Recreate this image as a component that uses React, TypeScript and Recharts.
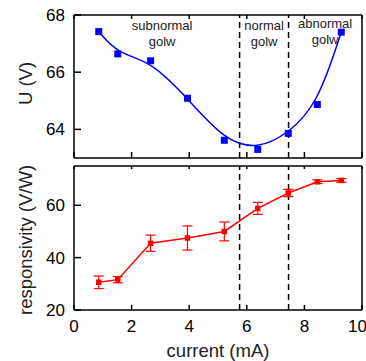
import {
  ComposedChart,
  Line,
  XAxis,
  YAxis,
  ReferenceLine,
  ReferenceDot,
  ErrorBar,
  Label,
} from "recharts";

const current = [0.86, 1.52, 2.66, 3.94, 5.22, 6.38, 7.44, 8.45, 9.28];
const voltage = [67.42, 66.64, 66.4, 65.09, 63.62, 63.3, 63.86, 64.87, 67.4];
const responsivity = [30.6, 31.6, 45.5, 47.5, 50.0, 58.8, 64.7, 69.0, 69.5];
const responsivityErr = [2.4, 1.2, 3.1, 4.6, 3.6, 2.3, 1.4, 0.7, 0.7];

const xTicks = [0, 2, 4, 6, 8, 10];
const uTicks = [64, 66, 68];
const rTicks = [20, 40, 60];
const regionBounds = [5.75, 7.45];
const regions = [
  { x: 3.06, y: 67.48, lines: ["subnormal", "golw"] },
  { x: 6.6, y: 67.48, lines: ["normal", "golw"] },
  { x: 8.72, y: 67.55, lines: ["abnormal", "golw"] },
];

const FONT = "Liberation Sans, Arial, sans-serif";
const tickStyle = { fill: "#000", fontSize: 17, fontFamily: FONT };
const noTick = () => <g />;

const topData = current.map((c, i) => ({ current: c, voltage: voltage[i] }));
const bottomData = current.map((c, i) => ({
  current: c,
  responsivity: responsivity[i],
  err: responsivityErr[i],
}));

function square(size: number, color: string) {
  return (p: any) => (
    <rect
      key={`sq-${p.index}`}
      x={p.cx - size / 2}
      y={p.cy - size / 2}
      width={size}
      height={size}
      fill={color}
    />
  );
}

function yTitle(text: string, dy = 0) {
  return (props: any) => {
    const vb = props.viewBox;
    const x = vb.x + 25;
    const y = vb.y + vb.height / 2 + dy;
    return (
      <text
        x={x}
        y={y}
        transform={`rotate(-90 ${x} ${y})`}
        textAnchor="middle"
        dominantBaseline="central"
        fontSize={18.5}
        fontFamily={FONT}
        fill="#222"
      >
        {text}
      </text>
    );
  };
}

function regionLabel(lines: string[]) {
  return (props: any) => {
    const vb = props.viewBox;
    const x = vb.x + (vb.width || 0) / 2;
    const y = vb.y + (vb.height || 0) / 2;
    return (
      <text x={x} y={y} textAnchor="middle" fontSize={13} fontFamily={FONT} fill="#222">
        {lines.map((l, i) => (
          <tspan key={l + i} x={x} dy={i === 0 ? 0 : 16.5}>
            {l}
          </tspan>
        ))}
      </text>
    );
  };
}

function TopPanel() {
  return (
    <ComposedChart
      width={366}
      height={165}
      data={topData}
      margin={{ top: 0, right: 0, bottom: 0, left: 0 }}
    >
      <XAxis
        dataKey="current"
        type="number"
        domain={[0, 10]}
        ticks={xTicks}
        height={7}
        tick={noTick}
        tickSize={-6}
        axisLine={{ stroke: "#000", strokeWidth: 1.5 }}
        tickLine={{ stroke: "#000", strokeWidth: 1.5 }}
      />
      <XAxis
        xAxisId="top"
        orientation="top"
        dataKey="current"
        type="number"
        domain={[0, 10]}
        ticks={xTicks}
        height={15}
        tick={noTick}
        tickSize={-4}
        axisLine={{ stroke: "#000", strokeWidth: 1.5 }}
        tickLine={{ stroke: "#000", strokeWidth: 1.5 }}
      />
      <YAxis
        yAxisId="left"
        type="number"
        domain={[63, 68]}
        ticks={uTicks}
        width={74}
        tickSize={-7}
        tickMargin={16}
        tick={tickStyle}
        axisLine={{ stroke: "#000", strokeWidth: 1.5 }}
        tickLine={{ stroke: "#000", strokeWidth: 1.5 }}
      >
        <Label content={yTitle("U (V)", -3)} />
      </YAxis>
      <YAxis
        yAxisId="right"
        orientation="right"
        type="number"
        domain={[63, 68]}
        ticks={uTicks}
        width={4}
        tick={noTick}
        tickLine={false}
        axisLine={{ stroke: "#000", strokeWidth: 1.5 }}
      />
      {regionBounds.map((b) => (
        <ReferenceLine
          key={b}
          x={b}
          yAxisId="left"
          stroke="#000"
          strokeWidth={1.5}
          strokeDasharray="6 4"
        />
      ))}
      {regions.map((r) => (
        <ReferenceDot
          key={r.lines[0]}
          x={r.x}
          y={r.y}
          yAxisId="left"
          r={0}
          fill="none"
          stroke="none"
          label={{ content: regionLabel(r.lines) }}
        />
      ))}
      <Line
        yAxisId="left"
        type="basis"
        dataKey="voltage"
        stroke="#0000ff"
        strokeWidth={1.5}
        dot={square(7, "#0000ff")}
        activeDot={false}
        isAnimationActive={false}
      />
    </ComposedChart>
  );
}

function BottomPanel() {
  return (
    <ComposedChart
      width={366}
      height={201}
      data={bottomData}
      margin={{ top: 0, right: 0, bottom: 0, left: 0 }}
    >
      <XAxis
        dataKey="current"
        type="number"
        domain={[0, 10]}
        ticks={xTicks}
        height={51}
        tickSize={-5}
        tickMargin={15}
        tick={tickStyle}
        axisLine={{ stroke: "#000", strokeWidth: 1.5 }}
        tickLine={{ stroke: "#000", strokeWidth: 1.5 }}
      >
        <Label
          content={(props: any) => {
            const vb = props.viewBox;
            return (
              <text
                x={vb.x + vb.width / 2}
                y={vb.y + 47}
                textAnchor="middle"
                fontSize={18.5}
                fontFamily={FONT}
                fill="#222"
              >
                current (mA)
              </text>
            );
          }}
        />
      </XAxis>
      <XAxis
        xAxisId="top"
        orientation="top"
        dataKey="current"
        type="number"
        domain={[0, 10]}
        ticks={xTicks}
        height={6}
        tick={noTick}
        tickSize={-3}
        axisLine={{ stroke: "#000", strokeWidth: 1.5 }}
        tickLine={{ stroke: "#000", strokeWidth: 1.5 }}
      />
      <YAxis
        yAxisId="left"
        type="number"
        domain={[20, 75]}
        ticks={rTicks}
        width={74}
        tickSize={-7}
        tickMargin={16}
        tick={tickStyle}
        axisLine={{ stroke: "#000", strokeWidth: 1.5 }}
        tickLine={{ stroke: "#000", strokeWidth: 1.5 }}
      >
        <Label content={yTitle("responsivity (V/W)", 2)} />
      </YAxis>
      <YAxis
        yAxisId="right"
        orientation="right"
        type="number"
        domain={[20, 75]}
        ticks={rTicks}
        width={4}
        tick={noTick}
        tickLine={false}
        axisLine={{ stroke: "#000", strokeWidth: 1.5 }}
      />
      {regionBounds.map((b) => (
        <ReferenceLine
          key={b}
          x={b}
          yAxisId="left"
          stroke="#000"
          strokeWidth={1.5}
          strokeDasharray="6 4"
        />
      ))}
      <Line
        yAxisId="left"
        type="linear"
        dataKey="responsivity"
        stroke="#ff0000"
        strokeWidth={1.5}
        dot={square(5.5, "#ff0000")}
        activeDot={false}
        isAnimationActive={false}
      >
        <ErrorBar dataKey="err" width={5} stroke="#ff0000" strokeWidth={1.2} direction="y" />
      </Line>
    </ComposedChart>
  );
}

export default function App() {
  return (
    <div style={{ position: "absolute", left: 0, top: 0, width: 366, height: 361, background: "#fff" }}>
      <div style={{ position: "absolute", left: 0, top: 0 }}>
        <TopPanel />
      </div>
      <div style={{ position: "absolute", left: 0, top: 160 }}>
        <BottomPanel />
      </div>
    </div>
  );
}
